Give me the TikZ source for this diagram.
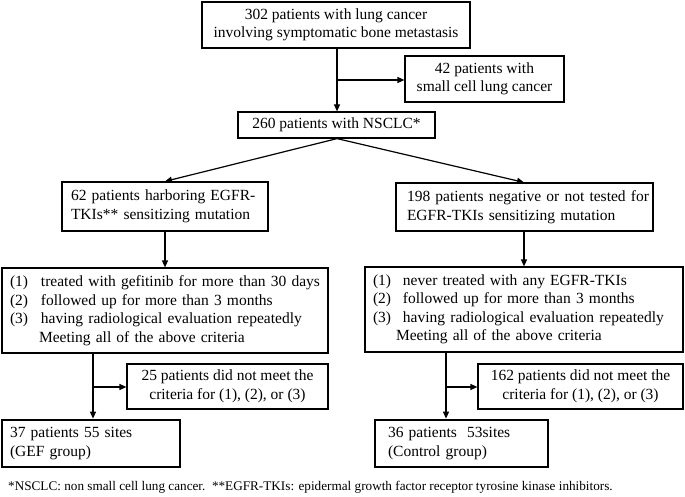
\documentclass[tikz,border=0pt]{standalone}
\usepackage{fontspec}
\setmainfont{Liberation Serif}
\usetikzlibrary{arrows.meta}
\begin{document}
\begin{tikzpicture}[x=1pt,y=-1pt,
  box/.style={draw, line width=1.2pt, inner ysep=0pt, font=\fontsize{15.5}{18.5}\selectfont},
  thickbox/.style={box, line width=2.8pt},
  arr/.style={line width=1.2pt, -{Triangle[length=7pt,width=6pt]}}]
\useasboundingbox (0,0) rectangle (685,497);
% boxes
\node[box, inner xsep=0pt, minimum width=268pt, minimum height=46pt, align=center] (top) at (336,25)
  {302 patients with lung cancer\\involving symptomatic bone metastasis};
\node[box, inner xsep=0pt, minimum width=159pt, minimum height=46pt, align=center] (n42) at (484.5,79)
  {42 patients with\\small cell lung cancer};
\node[box, inner xsep=0pt, minimum width=197pt, minimum height=26pt, align=center] (n260) at (336.5,125)
  {260 patients with NSCLC*};
\node[box, inner xsep=9pt, text width=188pt, minimum height=49pt, align=left] (n62) at (165,206.5)
  {\mbox{62 patients harboring EGFR-}\\\mbox{TKIs** sensitizing mutation}};
\node[box, inner xsep=11pt, text width=235pt, minimum height=48pt, align=left] (n198) at (524.5,207)
  {\mbox{198 patients negative or not tested for}\\\mbox{EGFR-TKIs sensitizing mutation}};
\node[box, inner xsep=8pt, text width=310pt, minimum height=85pt, align=left] (critL) at (165,310.5)
  {\mbox{\makebox[31pt][l]{(1)}treated with gefitinib for more than 30 days}\\
   \mbox{\makebox[31pt][l]{(2)}followed up for more than 3 months}\\
   \mbox{\makebox[31pt][l]{(3)}having radiological evaluation repeatedly}\\
   \mbox{\hspace*{29pt}Meeting all of the above criteria}};
\node[box, inner xsep=8pt, text width=302pt, minimum height=85pt, align=left] (critR) at (524,309.5)
  {\mbox{\makebox[30pt][l]{(1)}never treated with any EGFR-TKIs}\\
   \mbox{\makebox[30pt][l]{(2)}followed up for more than 3 months}\\
   \mbox{\makebox[30pt][l]{(3)}having radiological evaluation repeatedly}\\
   \mbox{\hspace*{23pt}Meeting all of the above criteria}};
\node[box, inner xsep=0pt, minimum width=201pt, minimum height=45pt, align=center] (n25) at (227.5,386.5)
  {25 patients did not meet the\\criteria for (1), (2), or (3)};
\node[box, inner xsep=0pt, minimum width=205pt, minimum height=45pt, align=center] (n162) at (580.5,386.5)
  {162 patients did not meet the\\criteria for (1), (2), or (3)};
\node[thickbox, inner xsep=8pt, text width=162pt, minimum height=47pt, align=left] (n37) at (91,443.5)
  {37 patients 55 sites\\(GEF group)};
\node[thickbox, inner xsep=13pt, text width=147pt, minimum height=47pt, align=left] (n36) at (461.5,443.5)
  {36 patients\ \ 53sites\\(Control group)};
\node[font=\fontsize{13.2}{15}\selectfont, anchor=west, inner sep=0pt] (foot) at (8,487)
  {*NSCLC: non small cell lung cancer.\ \ **EGFR-TKIs: epidermal growth factor receptor tyrosine kinase inhibitors.};
% connectors
\coordinate (s1) at (337,80);
\coordinate (s2) at (93,387);
\coordinate (s3) at (446,387);
\coordinate (vL) at (165,0);
\coordinate (vR) at (524,0);
\draw[arr] (top.south -| s1) -- (n260.north -| s1);
\draw[arr] (s1) -- (n42.west |- s1);
\draw[arr] (n260.south -| s1) -- (n62.north -| vL);
\draw[arr] (n260.south -| s1) -- (n198.north -| vR);
\draw[arr] (n62.south -| vL) -- (critL.north -| vL);
\draw[arr] (n198.south -| vR) -- (critR.north -| vR);
\draw[arr] (critL.south -| s2) -- (n37.north -| s2);
\draw[arr] (s2) -- (n25.west |- s2);
\draw[arr] (critR.south -| s3) -- (n36.north -| s3);
\draw[arr] (s3) -- (n162.west |- s3);
\end{tikzpicture}
\end{document}
